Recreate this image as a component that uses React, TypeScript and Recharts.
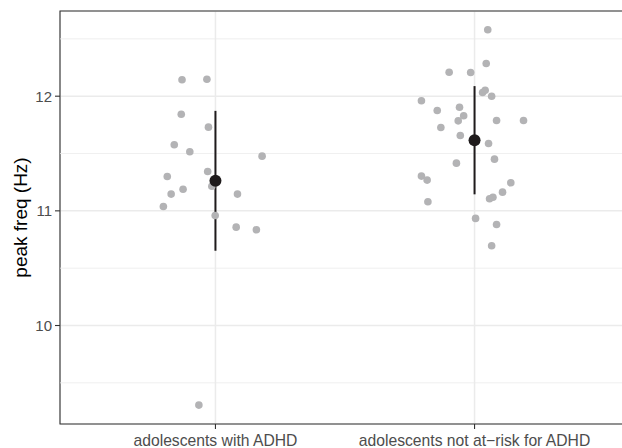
import React from 'react';
import {
  ComposedChart,
  Scatter,
  XAxis,
  YAxis,
  CartesianGrid,
  ReferenceLine,
  ReferenceArea,
  ErrorBar,
} from 'recharts';

// groups on a numeric x scale (1, 2), jitter
const categories = ['adolescents with ADHD', 'adolescents not at\u2212risk for ADHD'];

const adhdX = [0.871, 0.967, 0.868, 0.973, 0.841, 0.901, 1.18, 0.97, 0.814, 0.986, 0.875, 0.829, 1.085, 0.799, 0.999, 1.08, 1.158, 0.936];
const adhdY = [12.143, 12.148, 11.843, 11.73, 11.576, 11.515, 11.477, 11.343, 11.3, 11.215, 11.189, 11.146, 11.146, 11.038, 10.96, 10.858, 10.835, 9.306];

const controlX = [2.051, 2.045, 1.902, 1.985, 2.031, 2.041, 2.066, 1.795, 1.856, 1.942, 1.958, 1.937, 2.085, 2.189, 1.87, 1.945, 2.054, 1.93, 2.077, 1.795, 1.817, 2.14, 2.108, 2.071, 2.058, 1.82, 2.004, 2.085, 2.066];
const controlY = [12.579, 12.285, 12.209, 12.207, 12.032, 12.052, 12.0, 11.96, 11.875, 11.904, 11.829, 11.785, 11.788, 11.788, 11.727, 11.657, 11.588, 11.416, 11.451, 11.303, 11.268, 11.245, 11.163, 11.119, 11.105, 11.079, 10.934, 10.881, 10.696];

const groupPos = [1, 2];
const groupMean = [11.262, 11.616];
const groupErr = [0.61, 0.472];

const yMajor = [10, 11, 12];
const yMinor = [9.5, 10.5, 11.5, 12.5];
const yDomain: [number, number] = [9.141, 12.743];
const xDomain: [number, number] = [0.4, 2.6];

const points = [
  ...adhdX.map((x, i) => ({ x, y: adhdY[i] })),
  ...controlX.map((x, i) => ({ x, y: controlY[i] })),
];
const means = groupPos.map((x, i) => ({ x, y: groupMean[i], err: groupErr[i] }));

const FONT = '"Liberation Sans", Arial, Helvetica, sans-serif';

const GreyDot = (props: any) => <circle cx={props.cx} cy={props.cy} r={3.8} fill="#b3b3b5" />;
const MeanDot = (props: any) => <circle cx={props.cx} cy={props.cy} r={6} fill="#1f1b1c" />;

const YTitle = (props: any) => {
  const vb = props.viewBox;
  const cy = vb.y + vb.height / 2;
  return (
    <text
      x={26.5}
      y={cy}
      transform={`rotate(-90, 26.5, ${cy})`}
      textAnchor="middle"
      fontSize={19}
      fontFamily={FONT}
      fill="#000"
    >
      peak freq (Hz)
    </text>
  );
};

export default function App() {
  return (
    <div style={{ position: 'absolute', left: 0, top: 0, width: 622, height: 448, overflow: 'hidden', background: '#fff' }}>
      <ComposedChart width={640} height={448} data={points} margin={{ top: 11, right: 10, bottom: 0, left: 0 }}>
        <CartesianGrid stroke="#ebebeb" strokeWidth={1.5} />
        {yMinor.map((v) => (
          <ReferenceLine key={v} y={v} stroke="#ebebeb" strokeWidth={0.8} />
        ))}
        <XAxis
          dataKey="x"
          type="number"
          domain={xDomain}
          ticks={groupPos}
          allowDataOverflow
          height={24}
          tickFormatter={(v: number) => categories[v - 1]}
          axisLine={false}
          tickLine={{ stroke: '#333', strokeWidth: 1.1 }}
          tickSize={5}
          tickMargin={6}
          tick={{ fill: '#4d4d4d', fontSize: 15.7, fontFamily: FONT }}
          interval={0}
        />
        <YAxis
          dataKey="y"
          type="number"
          domain={yDomain}
          ticks={yMajor}
          allowDataOverflow
          width={60}
          axisLine={false}
          tickLine={{ stroke: '#333', strokeWidth: 1.1 }}
          tickSize={5}
          tickMargin={3}
          tick={{ fill: '#4d4d4d', fontSize: 15, fontFamily: FONT }}
          label={<YTitle />}
        />
        <Scatter data={points} dataKey="y" shape={GreyDot} isAnimationActive={false} />
        <Scatter data={means} dataKey="y" shape={MeanDot} isAnimationActive={false}>
          <ErrorBar dataKey="err" direction="y" width={0} stroke="#1f1b1c" strokeWidth={2} />
        </Scatter>
        <ReferenceArea
          x1={xDomain[0]}
          x2={xDomain[1]}
          y1={yDomain[0]}
          y2={yDomain[1]}
          fill="none"
          stroke="#333"
          strokeWidth={1.1}
          ifOverflow="visible"
        />
      </ComposedChart>
    </div>
  );
}
